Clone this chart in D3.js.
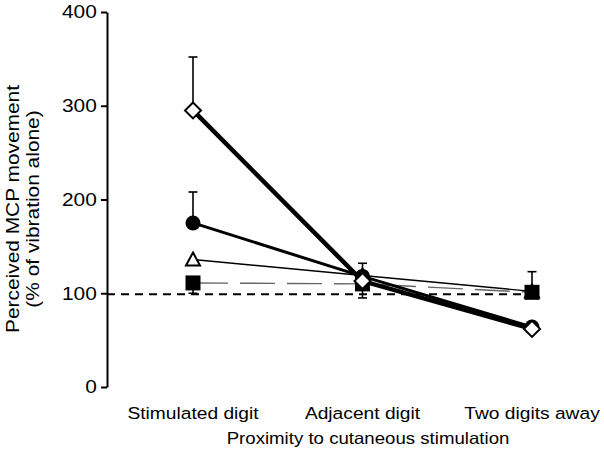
<!DOCTYPE html>
<html>
<head>
<meta charset="utf-8">
<script src="https://cdn.jsdelivr.net/npm/d3@7"></script>
<style>
  html, body { margin: 0; padding: 0; background: #fff; }
  svg { display: block; }
  text { font-family: "Liberation Sans", Arial, Helvetica, sans-serif; fill: #000; }
</style>
</head>
<body>
<svg id="chart" width="604" height="469"></svg>
<script>
// ---- data ----
const categories = ["Stimulated digit", "Adjacent digit", "Two digits away"];
const yTicks = [0, 100, 200, 300, 400];
const diamondVals  = [295, 113, 62];
const circleVals   = [175, 118, 64];
const triangleVals = [136, 119, 102];
const squareVals   = [111, 110, 101];
const diamondErrUp  = [57, 0, 0];
const circleErrUp   = [33, 14, 0];
const squareErrDown = [11, 15, 0];
const squareErrUp   = [0, 0, 22];
const referenceValue = 99;
const yTitle = ["Perceived MCP movement", "(% of vibration alone)"];
const xTitle = "Proximity to cutaneous stimulation";

// ---- layout ----
const svg = d3.select("#chart");
const SX = 1.13; // horizontal glyph stretch of the original typeface
const axisX = 107;
const x = d3.scalePoint().domain(categories).range([193, 532]);
const y = d3.scaleLinear().domain([0, 400]).range([387, 12]);

// y axis
const yAxis = svg.append("g")
  .attr("transform", `translate(${axisX},0)`)
  .call(d3.axisLeft(y).tickValues(yTicks).tickSize(6).tickSizeOuter(0).tickPadding(3));
yAxis.select(".domain").attr("stroke", "#000").attr("stroke-width", 2);
yAxis.selectAll(".tick line").attr("stroke", "#000").attr("stroke-width", 2);
yAxis.selectAll(".tick text")
  .attr("font-size", 18.5)
  .attr("font-family", "Liberation Sans, Arial, sans-serif")
  .attr("fill", "#000")
  .attr("transform", `scale(${SX},1)`);

// y title
yTitle.forEach((t, i) => {
  svg.append("text")
    .attr("transform", `translate(${19 + i * 20},209) rotate(-90) scale(${SX},1)`)
    .attr("text-anchor", "middle")
    .attr("font-size", 18.5)
    .text(t);
});

// x category labels
svg.append("g").selectAll("text").data(categories).join("text")
  .attr("transform", d => `translate(${x(d)},419) scale(${SX},1)`)
  .attr("text-anchor", "middle")
  .attr("font-size", 17)
  .text(d => d);

// x title
svg.append("text")
  .attr("transform", `translate(368,444) scale(${SX},1)`)
  .attr("text-anchor", "middle")
  .attr("font-size", 16.5)
  .text(xTitle);

// reference line
svg.append("line")
  .attr("x1", axisX).attr("x2", x(categories[2]) - 10)
  .attr("y1", y(referenceValue)).attr("y2", y(referenceValue))
  .attr("stroke", "#000").attr("stroke-width", 2)
  .attr("stroke-dasharray", "8,6");

const line = d3.line().x((d, i) => x(categories[i])).y(d => y(d));

// series lines
svg.append("path").datum(squareVals).attr("d", line)
  .attr("fill", "none").attr("stroke", "#666").attr("stroke-width", 1.4)
  .attr("stroke-dasharray", "35,12");
svg.append("path").datum(triangleVals).attr("d", line)
  .attr("fill", "none").attr("stroke", "#000").attr("stroke-width", 1.4);
svg.append("path").datum(circleVals).attr("d", line)
  .attr("fill", "none").attr("stroke", "#000").attr("stroke-width", 3);
svg.append("path").datum(diamondVals).attr("d", line)
  .attr("fill", "none").attr("stroke", "#000").attr("stroke-width", 4.5);

// error bars
function errBars(vals, errs, dir) {
  const g = svg.append("g").attr("stroke", "#000").attr("stroke-width", 1.6);
  vals.forEach((v, i) => {
    if (!errs[i]) return;
    const cx = x(categories[i]);
    const end = y(v + dir * errs[i]);
    g.append("line").attr("x1", cx).attr("x2", cx).attr("y1", y(v)).attr("y2", end);
    g.append("line").attr("x1", cx - 4.5).attr("x2", cx + 4.5).attr("y1", end).attr("y2", end);
  });
}
errBars(diamondVals, diamondErrUp, 1);
errBars(circleVals, circleErrUp, 1);
errBars(squareVals, squareErrDown, -1);
errBars(squareVals, squareErrUp, 1);

// markers
const pts = vals => vals.map((v, i) => ({ cx: x(categories[i]), cy: y(v) }));

svg.append("g").selectAll("path").data(pts(triangleVals)).join("path")
  .attr("d", d => `M${d.cx},${d.cy - 7}L${d.cx + 7},${d.cy + 6}L${d.cx - 7},${d.cy + 6}Z`)
  .attr("fill", "#fff").attr("stroke", "#000").attr("stroke-width", 2);

svg.append("g").selectAll("rect").data(pts(squareVals)).join("rect")
  .attr("x", d => d.cx - 7.5).attr("y", d => d.cy - 7.5)
  .attr("width", 15).attr("height", 15).attr("fill", "#000");

svg.append("g").selectAll("circle").data(pts(circleVals)).join("circle")
  .attr("cx", d => d.cx).attr("cy", d => d.cy).attr("r", 7.5).attr("fill", "#000");

svg.append("g").selectAll("path").data(pts(diamondVals)).join("path")
  .attr("d", d => `M${d.cx},${d.cy - 8}L${d.cx + 8},${d.cy}L${d.cx},${d.cy + 8}L${d.cx - 8},${d.cy}Z`)
  .attr("fill", "#fff").attr("stroke", "#000").attr("stroke-width", 2);
</script>
</body>
</html>
